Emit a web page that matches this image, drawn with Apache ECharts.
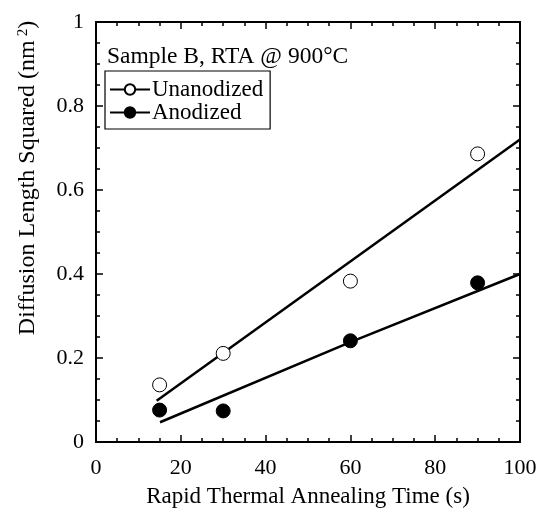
<!DOCTYPE html>
<html>
<head>
<meta charset="utf-8">
<script src="https://cdn.jsdelivr.net/npm/echarts@6/dist/echarts.min.js"></script>
<style>html,body{margin:0;padding:0;background:#fff}#c{width:545px;height:518px}</style>
</head>
<body>
<div id="c"></div>
<script>
// Data
var seriesNames = ['Unanodized', 'Anodized'];
var unanodized = [[15, 0.136], [30, 0.211], [60, 0.383], [90, 0.686]];
var anodized = [[15, 0.076], [30, 0.074], [60, 0.241], [90, 0.379]];
var unanodizedFit = [[14.3, 0.098], [100, 0.72]];
var anodizedFit = [[15.1, 0.047], [60, 0.238], [100, 0.40]];
var xTickLabels = ['0', '20', '40', '60', '80', '100'];
var yTickLabels = ['0', '0.2', '0.4', '0.6', '0.8', '1'];
var annotation = 'Sample B, RTA @ 900°C';
var xTitle = 'Rapid Thermal Annealing Time (s)';
var yTitle = 'Diffusion Length Squared (nm';

var FONT = 'Liberation Serif';
var chart = echarts.init(document.getElementById('c'), null, {renderer: 'canvas'});

function axisCommon(showLabels) {
  return {
    axisLine: {show: true, onZero: false, lineStyle: {color: '#000', width: 2}},
    axisTick: {show: true, inside: true, length: 7, lineStyle: {color: '#000', width: 1.5}},
    minorTick: {show: true, splitNumber: 4, length: 4, lineStyle: {color: '#000', width: 1.5}},
    splitLine: {show: false},
    axisLabel: {show: showLabels, color: '#000', fontFamily: FONT, fontSize: 22}
  };
}

var xBottom = Object.assign(axisCommon(true), {
  type: 'value', min: 0, max: 100, interval: 20, position: 'bottom',
  name: xTitle, nameLocation: 'middle', nameGap: 43,
  nameTextStyle: {color: '#000', fontFamily: FONT, fontSize: 23}
});
xBottom.axisLabel.margin = 15;
xBottom.axisLabel.formatter = function (v) { return xTickLabels[Math.round(v / 20)]; };
var xTop = Object.assign(axisCommon(false), {type: 'value', min: 0, max: 100, interval: 20, position: 'top'});
var yLeft = Object.assign(axisCommon(true), {type: 'value', min: 0, max: 1, interval: 0.2, position: 'left'});
yLeft.axisLabel.margin = 12;
yLeft.axisLabel.formatter = function (v) { return yTickLabels[Math.round(v / 0.2)]; };
var yRight = Object.assign(axisCommon(false), {type: 'value', min: 0, max: 1, interval: 0.2, position: 'right'});

chart.setOption({
  animation: false,
  backgroundColor: '#fff',
  grid: {left: 96, right: 25, top: 22, bottom: 76, show: false},
  xAxis: [xBottom, xTop],
  yAxis: [yLeft, yRight],
  title: {
    text: annotation, left: 107, top: 45, padding: 0,
    textStyle: {color: '#000', fontFamily: FONT, fontSize: 23.5, fontWeight: 'normal'}
  },
  legend: {
    data: seriesNames,
    orient: 'vertical',
    left: 105, top: 71,
    padding: [7, 7, 5, 4],
    itemGap: 0,
    itemWidth: 40, itemHeight: 13,
    borderColor: '#000', borderWidth: 1.2, borderRadius: 0,
    textStyle: {color: '#000', fontFamily: FONT, fontSize: 23, padding: [0, 0, 0, -3]},
    lineStyle: {color: '#000', width: 2, opacity: 1},
    selectedMode: false
  },
  graphic: [{
    type: 'text',
    x: 28, y: 178,
    rotation: Math.PI / 2,
    style: {
      text: '{a|' + yTitle + '}{s|2}{a|)}',
      align: 'center', verticalAlign: 'middle',
      fill: '#000',
      rich: {
        a: {fontFamily: FONT, fontSize: 24, fill: '#000'},
        s: {fontFamily: FONT, fontSize: 15, fill: '#000', verticalAlign: 'top', padding: [0, 0, 0, 4], lineHeight: 22}
      }
    }
  }],
  series: [
    {
      name: seriesNames[0], type: 'line', data: unanodized,
      symbol: 'circle', symbolSize: 14, showSymbol: true,
      lineStyle: {opacity: 0, width: 0},
      itemStyle: {color: '#fff', borderColor: '#000', borderWidth: 1},
      z: 5
    },
    {
      name: seriesNames[1], type: 'line', data: anodized,
      symbol: 'circle', symbolSize: 14, showSymbol: true,
      lineStyle: {opacity: 0, width: 0},
      itemStyle: {color: '#000', borderColor: '#000', borderWidth: 1},
      z: 5
    },
    {
      name: 'fitU', type: 'line', data: unanodizedFit, showSymbol: false, symbol: 'none',
      lineStyle: {color: '#000', width: 2.5}, silent: true, z: 3
    },
    {
      name: 'fitA', type: 'line', data: anodizedFit, showSymbol: false, symbol: 'none',
      lineStyle: {color: '#000', width: 2.5}, silent: true, z: 3
    }
  ]
});
</script>
</body>
</html>
